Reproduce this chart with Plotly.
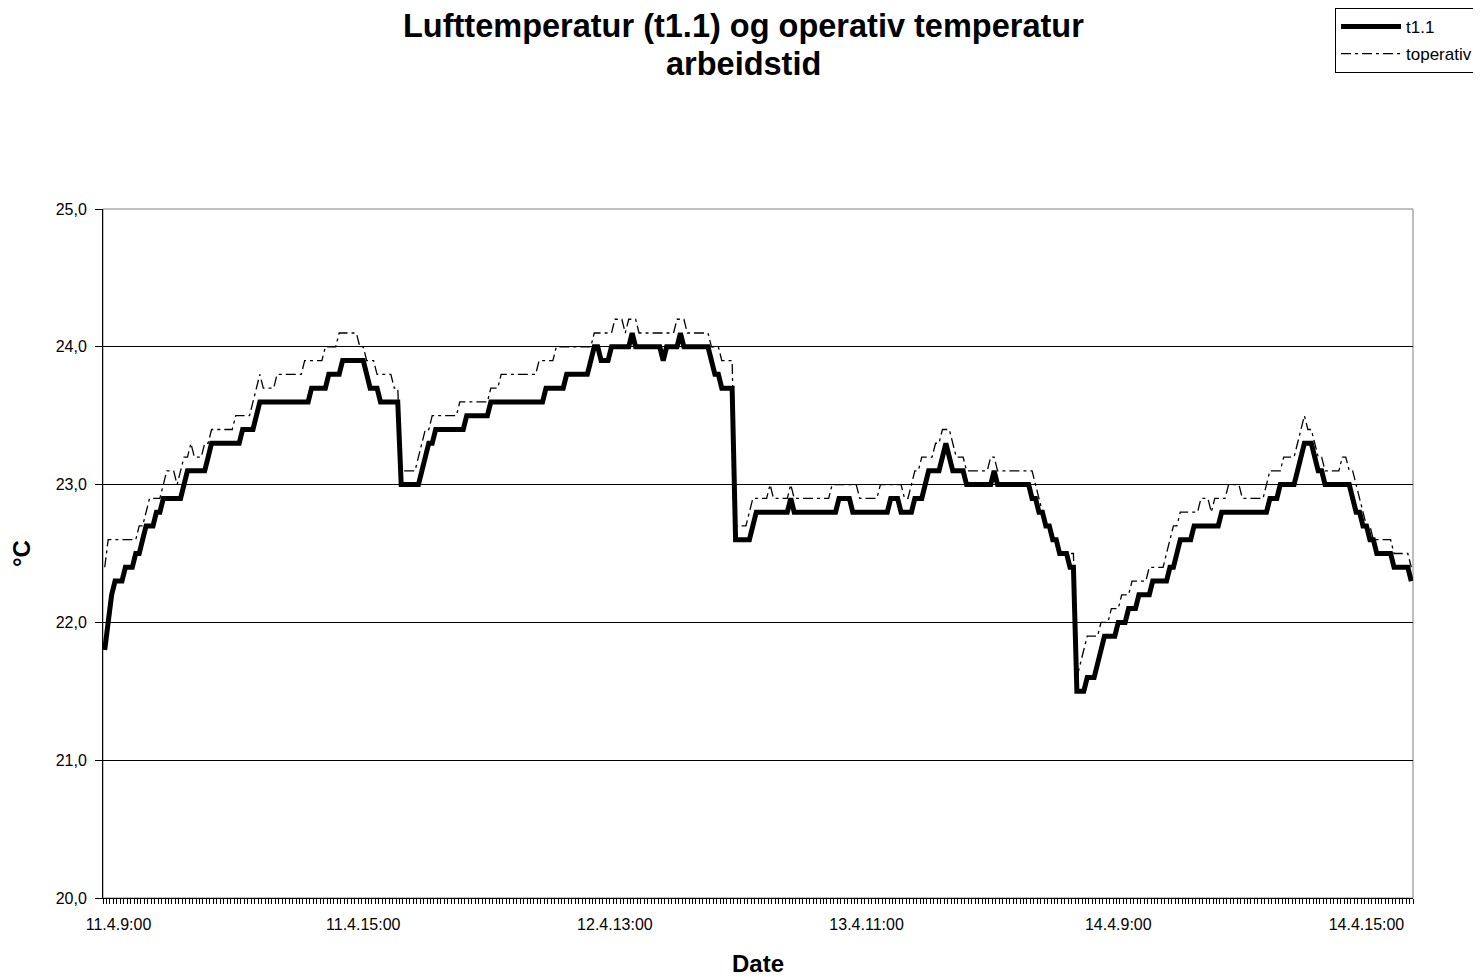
import plotly.graph_objects as go

N_POINTS = 380
X_LABELS = ["11.4.9:00", "11.4.15:00", "12.4.13:00", "13.4.11:00", "14.4.9:00", "14.4.15:00"]
X_LABEL_IDX = [4, 75, 148, 221, 294, 366]
TITLE_LINES = ["Lufttemperatur (t1.1) og operativ temperatur", "arbeidstid"]

# (temperature, last sample index of that level)
T11_STEPS = [
    (21.8, 0), (22.0, 1), (22.2, 2), (22.3, 5), (22.4, 8), (22.5, 10), (22.6, 11), (22.7, 14),
    (22.8, 16), (22.9, 22), (23.0, 23), (23.1, 29), (23.2, 30), (23.3, 39), (23.4, 43), (23.5, 44),
    (23.6, 59), (23.7, 64), (23.8, 68), (23.9, 75), (23.8, 76), (23.7, 79), (23.6, 85), (23.0, 91),
    (23.1, 92), (23.2, 93), (23.3, 95), (23.4, 104), (23.5, 111), (23.6, 127), (23.7, 133), (23.8, 140),
    (23.9, 141), (24.0, 143), (23.9, 146), (24.0, 152), (24.1, 153), (24.0, 161), (23.9, 162), (24.0, 166),
    (24.1, 167), (24.0, 175), (23.9, 176), (23.8, 178), (23.7, 182), (22.6, 187), (22.7, 188), (22.8, 198),
    (22.9, 199), (22.8, 212), (22.9, 216), (22.8, 227), (22.9, 230), (22.8, 234), (22.9, 237), (23.0, 238),
    (23.1, 242), (23.2, 243), (23.3, 244), (23.2, 245), (23.1, 249), (23.0, 257), (23.1, 258), (23.0, 268),
    (22.9, 270), (22.8, 272), (22.7, 274), (22.6, 276), (22.5, 279), (22.4, 281), (21.5, 284), (21.6, 287),
    (21.7, 288), (21.8, 289), (21.9, 293), (22.0, 296), (22.1, 299), (22.2, 303), (22.3, 308), (22.4, 310),
    (22.5, 311), (22.6, 315), (22.7, 323), (22.8, 337), (22.9, 340), (23.0, 345), (23.1, 346), (23.2, 347),
    (23.3, 350), (23.2, 351), (23.1, 353), (23.0, 361), (22.9, 362), (22.8, 364), (22.7, 366), (22.6, 368),
    (22.5, 373), (22.4, 378), (22.3, 379),
]

TOPERATIV_STEPS = [
    (22.4, 0), (22.6, 9), (22.7, 11), (22.8, 12), (22.9, 16), (23.0, 17), (23.1, 20), (23.0, 21),
    (23.1, 22), (23.2, 24), (23.3, 25), (23.2, 28), (23.3, 30), (23.4, 37), (23.5, 42), (23.6, 43),
    (23.7, 44), (23.8, 45), (23.7, 49), (23.8, 57), (23.9, 63), (24.0, 67), (24.1, 73), (24.0, 75),
    (23.9, 78), (23.8, 83), (23.7, 85), (23.1, 90), (23.2, 91), (23.3, 92), (23.4, 94), (23.5, 102),
    (23.6, 111), (23.7, 114), (23.8, 125), (23.9, 130), (24.0, 141), (24.1, 147), (24.2, 150), (24.1, 151),
    (24.2, 154), (24.1, 165), (24.2, 168), (24.1, 175), (24.0, 178), (23.9, 182), (22.7, 186), (22.8, 187),
    (22.9, 192), (23.0, 193), (22.9, 198), (23.0, 199), (22.9, 210), (23.0, 218), (22.9, 224), (23.0, 231),
    (22.9, 233), (23.0, 234), (23.1, 236), (23.2, 240), (23.3, 242), (23.4, 245), (23.3, 246), (23.2, 249),
    (23.1, 256), (23.2, 258), (23.1, 269), (23.0, 270), (22.9, 271), (22.8, 272), (22.7, 274), (22.6, 276),
    (22.5, 281), (21.6, 282), (21.7, 283), (21.8, 284), (21.9, 288), (22.0, 291), (22.1, 294), (22.2, 297),
    (22.3, 302), (22.4, 307), (22.5, 308), (22.6, 309), (22.7, 311), (22.8, 317), (22.9, 320), (22.8, 321),
    (22.9, 325), (23.0, 329), (22.9, 336), (23.0, 337), (23.1, 341), (23.2, 345), (23.3, 346), (23.4, 347),
    (23.5, 348), (23.4, 350), (23.3, 351), (23.2, 353), (23.1, 358), (23.2, 360), (23.1, 362), (23.0, 363),
    (22.9, 364), (22.8, 365), (22.7, 367), (22.6, 373), (22.5, 378), (22.4, 379),
]


def expand(steps):
    vals = []
    for value, last in steps:
        vals += [value] * (last + 1 - len(vals))
    return vals


x = list(range(N_POINTS))
t11 = expand(T11_STEPS)
toperativ = expand(TOPERATIV_STEPS)

FONT = "Arial, Liberation Sans, sans-serif"
# the page adds an 8px body margin, so the figure is laid out 8px smaller
OFF = 8
W, H = 1481 - OFF, 979 - OFF
L, T = 103 - OFF, 209 - OFF
PW, PH = 1310, 689
R, B = W - L - PW, H - T - PH


def px_to_paper(px, py):
    # page pixel position -> paper coordinates
    return (px - OFF - L) / PW, 1 - (py - OFF - T) / PH


fig = go.Figure()
fig.add_trace(go.Scatter(
    x=x, y=t11, name="t1.1", mode="lines", legendgroup="a",
    line=dict(color="black", width=5),
))
fig.add_trace(go.Scatter(
    x=x, y=toperativ, name="toperativ", mode="lines", legendgroup="b",
    line=dict(color="black", width=1.3, dash="10px,4px,3px,4px"),
))

fig.update_xaxes(
    range=[-0.5, N_POINTS - 0.5],
    tickvals=X_LABEL_IDX,
    ticktext=X_LABELS,
    ticks="",
    ticklabelstandoff=12,
    showline=True, linecolor="black", linewidth=1,
    showgrid=False, zeroline=False,
    minor=dict(ticks="outside", dtick=1, tick0=-0.5, ticklen=5,
               tickcolor="black", tickwidth=1, showgrid=False),
    tickfont=dict(size=16, color="black"),
    title=dict(text="<b>Date</b>", font=dict(size=24, color="black"), standoff=22),
)
fig.update_yaxes(
    range=[20, 25], dtick=1, tickformat=".1f",
    ticks="outside", ticklen=7, tickcolor="black",
    ticklabelstandoff=5,
    showline=True, linecolor="black", linewidth=1,
    showgrid=True, gridcolor="black", gridwidth=1, zeroline=False,
    tickfont=dict(size=16, color="black"),
    title=dict(text="<b>°C</b>", font=dict(size=24, color="black"), standoff=18),
)

fig.add_shape(type="rect", xref="paper", yref="paper", x0=0, x1=1, y0=0, y1=1,
              line=dict(color="#808080", width=1), layer="below")

for text, cy in zip(TITLE_LINES, [26, 64]):
    ax, ay = px_to_paper(743, cy)
    fig.add_annotation(
        text=f"<b>{text}</b>", xref="paper", yref="paper", x=ax, y=ay,
        xanchor="center", yanchor="middle", showarrow=False, borderpad=0,
        font=dict(size=32.5, color="black"),
    )

lx, ly = px_to_paper(1478, 8)
fig.update_layout(
    width=W, height=H,
    separators=",.",
    font=dict(family=FONT, color="black"),
    paper_bgcolor="white",
    plot_bgcolor="white",
    margin=dict(l=L, r=R, t=T, b=B, autoexpand=False),
    showlegend=True,
    legend=dict(
        x=lx, xanchor="right", y=ly, yanchor="top",
        bgcolor="white", bordercolor="black", borderwidth=1,
        font=dict(size=17, color="black"),
        itemwidth=60, tracegroupgap=2,
    ),
)

fig.write_html("out.html")
